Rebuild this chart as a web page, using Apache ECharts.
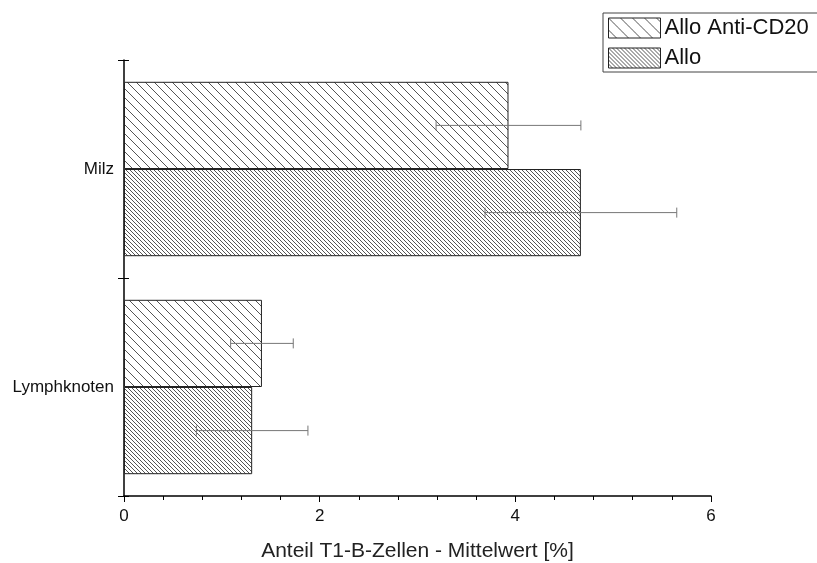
<!DOCTYPE html>
<html>
<head>
<meta charset="utf-8">
<script src="https://cdn.jsdelivr.net/npm/echarts@6/dist/echarts.min.js"></script>
<style>
  html, body { margin: 0; padding: 0; background: #fff; }
  #chart { width: 817px; height: 563px; }
</style>
</head>
<body>
<div id="chart"></div>
<script>
var categories = ['Lymphknoten', 'Milz'];
var alloMean = [1.31, 4.67];
var alloErr = [0.57, 0.98];
var antiMean = [1.41, 3.93];
var antiErr = [0.32, 0.74];
var xTicks = [0, 2, 4, 6];

// diagonal hatch "\" with given period
function hatch(step) {
    var c = document.createElement('canvas');
    c.width = step;
    c.height = step;
    var ctx = c.getContext('2d');
    ctx.fillStyle = '#fff';
    ctx.fillRect(0, 0, step, step);
    ctx.strokeStyle = '#555';
    ctx.lineWidth = 1;
    ctx.beginPath();
    ctx.moveTo(-1, -1); ctx.lineTo(step + 1, step + 1);
    ctx.moveTo(-1, step - 1); ctx.lineTo(1, step + 1);
    ctx.moveTo(step - 1, -1); ctx.lineTo(step + 1, 1);
    ctx.stroke();
    return { image: c, repeat: 'repeat' };
}

function errData(mean, err) {
    var out = [];
    for (var i = 0; i < mean.length; i++) {
        out.push([i, mean[i] - err[i], mean[i] + err[i]]);
    }
    return out;
}

function errSeries(name, data, shift) {
    return {
        name: name,
        type: 'custom',
        silent: true,
        z: 5,
        encode: { y: 0, x: [1, 2] },
        data: data,
        renderItem: function (params, api) {
            var band = api.size([0, 1])[1];
            var lo = api.coord([api.value(1), api.value(0)]);
            var hi = api.coord([api.value(2), api.value(0)]);
            var y = lo[1] + shift * band;
            var style = { stroke: '#777', lineWidth: 1 };
            return {
                type: 'group',
                children: [
                    { type: 'line', shape: { x1: lo[0], y1: y, x2: hi[0], y2: y }, style: style },
                    { type: 'line', shape: { x1: lo[0], y1: y - 5, x2: lo[0], y2: y + 5 }, style: style },
                    { type: 'line', shape: { x1: hi[0], y1: y - 5, x2: hi[0], y2: y + 5 }, style: style }
                ]
            };
        }
    };
}

var myChart = echarts.init(document.getElementById('chart'));

var font = 'Liberation Sans, Arial, sans-serif';

var option = {
    animation: false,
    textStyle: { fontFamily: font },
    grid: { left: 124, right: 106, top: 60, bottom: 67, outerBoundsMode: 'none', containLabel: false },
    legend: {
        data: [
            { name: 'Allo Anti-CD20', itemStyle: { color: hatch(12), borderColor: '#222', borderWidth: 1 } },
            { name: 'Allo', itemStyle: { color: hatch(4), borderColor: '#222', borderWidth: 1 } }
        ],
        icon: 'rect',
        orient: 'vertical',
        left: 603,
        top: 13,
        padding: [4, 40, 3, 5],
        itemGap: 8,
        itemWidth: 52,
        itemHeight: 20,
        borderColor: '#444',
        borderWidth: 1,
        textStyle: { fontSize: 22, lineHeight: 21, color: '#111', padding: [0, 0, 0, -1] }
    },
    xAxis: {
        type: 'value',
        min: 0,
        max: 6,
        interval: 2,
        name: 'Anteil T1-B-Zellen - Mittelwert [%]',
        nameLocation: 'middle',
        nameGap: 45,
        nameTextStyle: { fontSize: 21, color: '#222' },
        axisLine: { show: true, lineStyle: { color: '#000', width: 1.5 } },
        axisTick: { show: true, length: 6, lineStyle: { color: '#000' } },
        minorTick: { show: true, splitNumber: 5, length: 4, lineStyle: { color: '#000' } },
        axisLabel: { fontSize: 17, color: '#111', margin: 12 },
        splitLine: { show: false }
    },
    yAxis: [{
        type: 'category',
        data: categories,
        axisLine: { show: true, lineStyle: { color: '#000', width: 1.5 } },
        axisTick: { show: true, length: 6, lineStyle: { color: '#000' } },
        axisLabel: { fontSize: 17, color: '#111', margin: 10 },
        splitLine: { show: false }
    }, {
        type: 'category',
        data: categories,
        position: 'left',
        axisLine: { show: false },
        axisTick: { show: true, inside: true, length: 5, lineStyle: { color: '#000' } },
        axisLabel: { show: false }
    }],
    series: [
        {
            name: 'Allo Anti-CD20',
            type: 'bar',
            barGap: '0%',
            barCategoryGap: '20%',
            itemStyle: { color: hatch(9), borderColor: '#222', borderWidth: 1 },
            data: antiMean
        },
        {
            name: 'Allo',
            type: 'bar',
            barGap: '0%',
            barCategoryGap: '20%',
            itemStyle: { color: hatch(4), borderColor: '#222', borderWidth: 1 },
            data: alloMean
        },
        errSeries('errAllo', errData(alloMean, alloErr), 0.2),
        errSeries('errAnti', errData(antiMean, antiErr), -0.2)
    ]
};

myChart.setOption(option);
</script>
</body>
</html>
